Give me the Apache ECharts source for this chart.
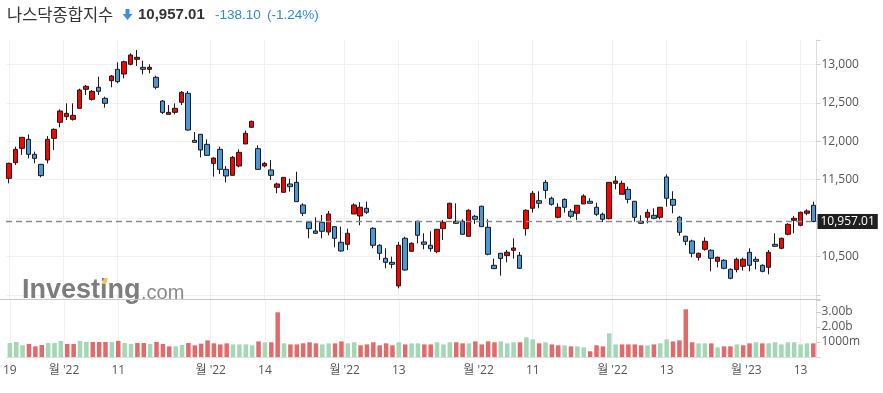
<!DOCTYPE html>
<html><head><meta charset="utf-8">
<script src="https://cdn.jsdelivr.net/npm/echarts@6/dist/echarts.min.js"></script>
<style>html,body{margin:0;padding:0;background:#fff}#c{width:883px;height:393px}</style>
</head><body><div id="c"></div>
<script>
// ---- categories: trading days (Jul 19 2022 .. Jan 18 2023)
const monthDays = [
  ['2022-07', [19,20,21,22,25,26,27,28,29]],
  ['2022-08', [1,2,3,4,5,8,9,10,11,12,15,16,17,18,19,22,23,24,25,26,29,30,31]],
  ['2022-09', [1,2,6,7,8,9,12,13,14,15,16,19,20,21,22,23,26,27,28,29,30]],
  ['2022-10', [3,4,5,6,7,10,11,12,13,14,17,18,19,20,21,24,25,26,27,28,31]],
  ['2022-11', [1,2,3,4,7,8,9,10,11,14,15,16,17,18,21,22,23,25,28,29,30]],
  ['2022-12', [1,2,5,6,7,8,9,12,13,14,15,16,19,20,21,22,23,27,28,29,30]],
  ['2023-01', [3,4,5,6,9,10,11,12,13,17,18]]
];
const dates = [];
monthDays.forEach(([m, ds]) => ds.forEach(d => dates.push(m + '-' + String(d).padStart(2, '0'))));

// ---- series values
const opens = [11518,11722,11908,12025,11830,11700,11757,12038,12246,12320,12285,12428,12675,12545,12701,12558,12787,12935,12874,13000,
13065,12961,12935,12831,12523,12350,12376,12506,12623,12012,12090,11960,11713,11895,11635,11557,11679,11965,12181,11904,
11679,11627,11401,11336,11445,11466,11172,10947,10834,10947,10821,10890,10687,10661,11055,11029,11129,10869,10648,10479,
10427,10120,10739,10570,10960,10691,10648,10566,10864,10999,10960,10960,10765,11025,11155,10882,10388,10544,10514,10583,
10518,10864,11129,11228,11466,11259,11012,11245,11090,11064,11185,11220,11142,11051,10994,11453,11311,11375,11220,10960,
11012,11038,11012,11536,11245,11012,10765,10704,10492,10596,10583,10440,10453,10336,10332,10375,10557,10466,10388,10362,
10661,10609,10791,10973,10908,11064,11168];
const closes = [11713,11895,12051,11830,11778,11553,12025,12155,12393,12363,12337,12666,12714,12649,12649,12493,12848,12774,13034,13121,
13091,12935,12961,12701,12376,12376,12428,12636,12146,11986,11887,11817,11782,11635,11549,11791,11856,12103,12259,11635,
11713,11557,11445,11531,11410,11215,11064,10864,10804,10830,11055,10739,10574,10804,11172,11142,11077,10648,10544,10427,
10401,10648,10327,10674,10778,10661,10605,10856,10947,11194,10934,10791,11103,10986,10890,10531,10345,10475,10557,10613,
10349,11103,11324,11194,11362,11180,11142,11142,11025,11168,11289,11194,11051,10986,11466,11484,11453,11245,11012,10934,
11077,10999,11142,11259,11168,10817,10700,10544,10544,10700,10479,10492,10349,10219,10466,10466,10388,10440,10310,10557,
10635,10739,10921,10999,11077,11094,10957.01];
const lows = [11453,11692,11822,11778,11713,11531,11713,11887,12181,12276,12268,12428,12601,12528,12601,12437,12701,12753,12818,12987,
12978,12870,12883,12675,12354,12350,12350,12471,12138,11986,11791,11808,11540,11575,11466,11557,11661,11965,12181,11627,
11661,11497,11324,11336,11345,11215,11029,10739,10795,10739,10778,10622,10566,10587,11055,10908,11055,10609,10457,10349,
10349,10089,10319,10570,10674,10596,10566,10544,10717,10990,10925,10787,10760,10925,10890,10518,10345,10254,10427,10475,
10340,10773,11072,11129,11254,11163,10999,11072,10999,10977,11185,11194,11029,10951,10986,11375,11311,11194,10955,10925,
10934,10986,10986,11150,11064,10773,10648,10492,10449,10579,10310,10362,10336,10206,10297,10319,10310,10336,10297,10271,
10630,10596,10778,10804,10895,11038,10947];
const highs = [11722,11930,12055,12090,11865,11705,12068,12168,12415,12493,12493,12683,12731,12666,12839,12579,12861,13026,13047,13143,
13186,13047,13000,12852,12536,12471,12493,12653,12653,12120,12090,12025,11790,11930,11679,11808,11895,12138,12268,11947,
11731,11757,11462,11535,11514,11605,11194,10955,11012,11042,11094,10895,10890,10864,11194,11207,11215,10882,10661,10609,
10501,10691,10760,10687,10968,10804,10830,10860,10977,11202,11194,10986,11116,11042,11163,10986,10475,10548,10587,10739,
10561,11116,11354,11350,11497,11280,11194,11259,11120,11172,11311,11259,11202,11072,11470,11549,11488,11410,11224,11038,
11116,11129,11146,11570,11350,11029,10773,10721,10553,10752,10596,10501,10466,10349,10488,10488,10609,10501,10401,10587,
10804,10747,10934,11029,11085,11116,11215];
// volume in billions of shares
const volumes = [0.93,1.0,0.78,0.87,0.71,0.80,0.93,0.93,1.07,0.87,0.87,1.07,1.0,1.0,1.0,1.0,1.0,1.07,0.93,0.87,
0.93,0.93,0.87,1.0,0.87,0.71,0.71,0.80,0.93,0.78,0.89,1.11,0.91,0.84,0.91,0.84,0.84,0.84,0.78,1.04,
0.98,0.98,2.98,0.91,0.84,0.84,0.91,0.98,0.91,0.84,0.91,0.91,1.04,0.91,0.98,0.78,0.84,0.98,0.78,0.91,
0.78,0.98,0.84,0.91,0.91,0.84,0.84,0.98,0.84,0.98,0.98,0.91,0.91,1.04,0.84,1.04,0.98,1.04,0.91,0.98,
0.98,1.31,1.18,0.91,0.98,0.84,0.78,0.78,0.71,0.71,0.64,0.38,0.78,0.71,1.58,0.84,0.84,0.84,0.84,0.78,
0.78,0.84,0.91,1.18,1.04,1.11,3.18,0.98,0.91,0.91,0.91,0.64,0.71,0.71,0.84,0.78,0.91,0.98,0.91,0.91,
0.98,0.84,0.98,0.98,0.84,0.91,0.91];
// 1 = close above previous close (green volume), 0 = below (red volume)
const volUp = [1,1,1,0,0,0,1,1,1,0,0,1,1,0,0,0,1,0,1,1,
0,0,1,0,0,0,1,1,0,0,0,0,0,0,0,1,1,1,1,0,
1,0,0,1,0,0,0,0,0,1,1,0,0,1,1,0,0,0,0,0,
0,1,0,1,1,0,0,1,1,1,0,0,1,0,0,0,0,1,1,1,
0,1,1,0,1,0,0,1,0,1,1,0,0,0,1,1,0,0,0,0,
1,0,1,1,0,0,0,0,1,1,0,1,0,0,1,0,0,1,0,1,
1,1,1,1,1,1,0];
const lastPrice = 10957.01;

// ---- tick labels (positions in trading-day index units)
const tickPos = [0, 8.5, 17, 31.5, 40, 52.5, 61, 73.5, 82, 94.5, 103, 115.5, 124];
const tickText = ['19', "월 '22", '11', "월 '22", '14', "월 '22", '13', "월 '22", '11', "월 '22", '13', "월 '23", '13'];
const priceTicks = [10500, 11500, 12000, 12500, 13000];
const volTickText = {1: '1000m', 2: '2.00b', 3: '3.00b'};

// ---- build
const N = dates.length;
const halfCats = new Array(2 * N + 1).fill('');
const tickIdx = new Set();
tickPos.forEach((p, j) => { const k = Math.round(2 * p + 1); halfCats[k] = tickText[j]; tickIdx.add(k); });
const showTick = (idx) => tickIdx.has(idx);

const candleData = dates.map((d, i) => [opens[i], closes[i], lows[i], highs[i]]);
const volData = volumes.map((v, i) => ({value: v * 1e9, itemStyle: {color: volUp[i] ? '#a4d7b6' : '#e26a6a'}}));

const FONT = "'Open Sans', 'Noto Sans CJK KR', sans-serif";
const GRID_L = 6, GRID_R = 66.5;
const GL = '#f1f1f1', NONE = 'rgba(0,0,0,0)';

const chart = echarts.init(document.getElementById('c'), null, {renderer: 'canvas'});
chart.setOption({
  animation: false,
  backgroundColor: '#fff',
  grid: [
    {left: GRID_L, right: GRID_R, top: 40, height: 259},
    {left: GRID_L, right: GRID_R, top: 300, height: 57}
  ],
  xAxis: [
    {type: 'category', gridIndex: 0, position: 'bottom', data: dates, boundaryGap: true,
     axisLine: {show: false}, axisTick: {show: false}, axisLabel: {show: false}, splitLine: {show: false}},
    {type: 'category', gridIndex: 1, position: 'bottom', data: dates, boundaryGap: true,
     axisLine: {show: true, lineStyle: {color: '#dcdcdc'}}, axisTick: {show: false}, axisLabel: {show: false}, splitLine: {show: false}},
    {type: 'category', gridIndex: 0, position: 'bottom', data: halfCats, boundaryGap: false,
     axisLine: {show: false}, axisTick: {show: false}, axisLabel: {show: false},
     splitLine: {show: true, interval: showTick, lineStyle: {color: GL, width: 1}}},
    {type: 'category', gridIndex: 1, position: 'bottom', data: halfCats, boundaryGap: false,
     axisLine: {show: false}, axisTick: {show: false},
     axisLabel: {show: true, interval: showTick, color: '#555', fontSize: 12, margin: 8, fontFamily: FONT},
     splitLine: {show: true, interval: showTick, lineStyle: {color: GL, width: 1}}}
  ],
  yAxis: [
    {type: 'value', gridIndex: 0, position: 'right', min: 9950, max: 13316, splitNumber: 5,
     axisLine: {show: true, lineStyle: {color: '#dcdcdc'}},
     axisTick: {show: true, length: 4, lineStyle: {color: '#cfcfcf'}},
     axisLabel: {color: '#555', fontSize: 12, margin: 5, fontFamily: FONT,
       formatter: v => priceTicks.includes(v) ? v.toLocaleString('en-US') : ''},
     splitLine: {show: true, lineStyle: {color: [GL, GL, GL, GL, GL, GL, GL, GL, NONE]}}},
    {type: 'value', gridIndex: 1, position: 'right', min: 0, max: 3.8e9, interval: 1e9,
     axisLine: {show: true, lineStyle: {color: '#dcdcdc'}},
     axisTick: {show: true, length: 4, lineStyle: {color: '#cfcfcf'}},
     axisLabel: {color: '#555', fontSize: 12, margin: 5, fontFamily: FONT,
       formatter: v => volTickText[Math.round(v / 1e9)] || ''},
     splitLine: {show: false}}
  ],
  series: [
    {type: 'candlestick', xAxisIndex: 0, yAxisIndex: 0, data: candleData, barWidth: 5,
     itemStyle: {color: '#ff0000', color0: '#4a98d8', borderColor: '#1a1a1a', borderColor0: '#1a1a1a', borderWidth: 1},
     markLine: {silent: true, symbol: ['none', 'none'], animation: false,
       data: [{yAxis: lastPrice}],
       lineStyle: {color: '#8a8a8a', type: [6, 4], width: 1.3},
       label: {show: true, position: 'end', distance: 1, formatter: lastPrice.toLocaleString('en-US', {minimumFractionDigits: 2}),
         backgroundColor: '#1f1f1f', color: '#fff', fontSize: 12, lineHeight: 13, padding: [1, 3, 1, 3], fontFamily: FONT}}},
    {type: 'bar', xAxisIndex: 1, yAxisIndex: 1, data: volData, barWidth: 4.5}
  ],
  graphic: [
    {type: 'text', x: 7, y: 15, style: {text: '나스닥종합지수', font: "16.5px 'Noto Sans CJK KR'", fill: '#333', verticalAlign: 'middle'}},
    {type: 'polygon', shape: {points: [[125.5,9],[129.5,9],[129.5,14],[132.5,14],[127.5,20],[122.5,14],[125.5,14]]}, style: {fill: '#3b8fe0'}},
    {type: 'text', x: 138, y: 15, style: {text: '10,957.01', font: "bold 15px 'Liberation Sans', Arial", fill: '#333', verticalAlign: 'middle'}},
    {type: 'text', x: 215, y: 15, style: {text: '-138.10', font: "13.5px 'Liberation Sans', Arial", fill: '#2f88db', verticalAlign: 'middle'}},
    {type: 'text', x: 267, y: 15, style: {text: '(-1.24%)', font: "13.5px 'Liberation Sans', Arial", fill: '#2f88db', verticalAlign: 'middle'}},
    {type: 'text', z: 1, x: 22, y: 290.5, style: {text: 'Investing', font: "bold 27px 'Liberation Sans', Arial", fill: '#7d7d7d', verticalAlign: 'middle'}},
    {type: 'text', z: 1, x: 141, y: 293.5, style: {text: '.com', font: "20px 'Liberation Sans', Arial", fill: '#8a8a8a', verticalAlign: 'middle'}},
    {type: 'polygon', z: 1, shape: {points: [[102,284],[104,278],[108,278],[106,284]]}, style: {fill: '#f6bf62'}},
    {type: 'line', z: 5, shape: {x1: 0, y1: 299.5, x2: 817, y2: 299.5}, style: {stroke: '#c8c8c8', lineWidth: 1}}
  ]
});
</script></body></html>
